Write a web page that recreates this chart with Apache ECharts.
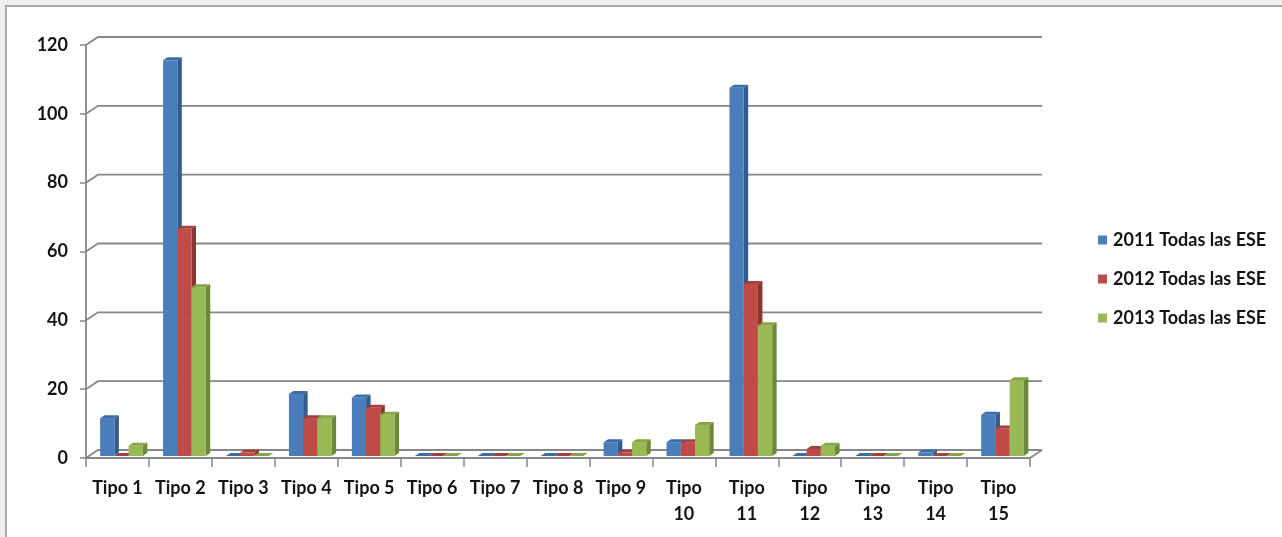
<!DOCTYPE html>
<html>
<head>
<meta charset="utf-8">
<script src="https://cdn.jsdelivr.net/npm/echarts@6/dist/echarts.min.js"></script>
<style>
  html, body { margin: 0; padding: 0; background: #efefef; }
  #frame {
    position: absolute; left: 5px; top: 5px; width: 1290px; height: 550px;
    background: #ffffff; border-left: 2px solid #a9a9a9; border-top: 2px solid #a9a9a9;
  }
  #chart { position: absolute; left: 0; top: 0; width: 1282px; height: 537px; }
</style>
</head>
<body>
<div id="frame"></div>
<div id="chart"></div>
<script>
// Categories and yearly counts per type
const categories = ['Tipo 1', 'Tipo 2', 'Tipo 3', 'Tipo 4', 'Tipo 5', 'Tipo 6', 'Tipo 7', 'Tipo 8',
  'Tipo 9', 'Tipo 10', 'Tipo 11', 'Tipo 12', 'Tipo 13', 'Tipo 14', 'Tipo 15'];
const seriesNames = ['2011 Todas las ESE', '2012 Todas las ESE', '2013 Todas las ESE'];
const values2011 = [11, 115, 0, 18, 17, 0, 0, 0, 4, 4, 107, 0, 0, 1, 12];
const values2012 = [0, 66, 1, 11, 14, 0, 0, 0, 1, 4, 50, 2, 0, 0, 8];
const values2013 = [3, 49, 0, 11, 12, 0, 0, 0, 4, 9, 38, 3, 0, 0, 22];
const yTicks = [0, 20, 40, 60, 80, 100, 120];

// Face colours for the pseudo-3D columns: front, top, side
const palettes = [
  { front: '#4A7EBB', top: '#3D6DA6', side: '#335B8D' },
  { front: '#BE4B48', top: '#A33F3C', side: '#8B3431' },
  { front: '#98B954', top: '#86A548', side: '#6E8839' }
];

// Depth of the back wall and of each column
const WALL_DX = 12, WALL_DY = 8;
const BAR_DX = 4.5, BAR_DY = 3;
const SHIFT_X = 4, SHIFT_Y = 2;
const GRID_COLOR = '#878787';
const TEXT_COLOR = '#141414';
const FONT = 'Lato, "Open Sans", sans-serif';

function wallRenderer(params, api) {
  const cs = params.coordSys;
  const t = api.value(1);
  const y = api.coord([0, t])[1];
  const x0 = cs.x, x1 = cs.x + cs.width;
  const children = [{
    type: 'polyline',
    shape: { points: [[x0, y], [x0 + WALL_DX, y - WALL_DY], [x1 + WALL_DX, y - WALL_DY]] },
    style: { stroke: GRID_COLOR, lineWidth: 1.8, fill: null }
  }];
  if (t === 0) {
    children.push({
      type: 'line',
      shape: { x1: x1, y1: y, x2: x1 + WALL_DX, y2: y - WALL_DY },
      style: { stroke: GRID_COLOR, lineWidth: 1.8 }
    });
  }
  return { type: 'group', children: children };
}

function barRenderer(idx) {
  const pal = palettes[idx];
  return function (params, api) {
    const cat = api.value(0), v = api.value(1);
    const base = api.coord([cat, 0]);
    const top = api.coord([cat, v]);
    const band = api.size([1, 0])[0];
    const w = band * 0.226;
    const x0 = base[0] - 1.5 * w + SHIFT_X + idx * w;
    const x1 = x0 + w;
    const yb = base[1] - SHIFT_Y;
    const yt = top[1] - SHIFT_Y;
    return {
      type: 'group',
      children: [
        { type: 'polygon',
          shape: { points: [[x1, yt], [x1 + BAR_DX, yt - BAR_DY], [x1 + BAR_DX, yb - BAR_DY], [x1, yb]] },
          style: { fill: pal.side } },
        { type: 'rect', shape: { x: x0, y: yt, width: w, height: yb - yt },
          style: { fill: pal.front } },
        { type: 'polygon',
          shape: { points: [[x0, yt], [x0 + BAR_DX, yt - BAR_DY], [x1 + BAR_DX, yt - BAR_DY], [x1, yt]] },
          style: { fill: pal.top } }
      ]
    };
  };
}

const seriesValues = [values2011, values2012, values2013];

const chart = echarts.init(document.getElementById('chart'), null, { renderer: 'canvas' });
chart.setOption({
  animation: false,
  backgroundColor: 'transparent',
  color: palettes.map(p => p.front),
  textStyle: { fontFamily: FONT },
  legend: {
    orient: 'vertical',
    left: 1093,
    top: 225,
    icon: 'rect',
    itemWidth: 9,
    itemHeight: 9,
    itemGap: 19,
    data: seriesNames,
    textStyle: { fontFamily: FONT, fontSize: 18, fontWeight: 'bold', color: TEXT_COLOR, lineHeight: 20, padding: [0, 0, 0, 1] }
  },
  grid: { left: 86, right: 252, top: 45, bottom: 79 },
  xAxis: {
    type: 'category',
    data: categories,
    axisLine: { show: true, lineStyle: { color: GRID_COLOR, width: 1.8 } },
    axisTick: { show: true, length: 9, lineStyle: { color: GRID_COLOR, width: 1.5 } },
    axisLabel: {
      interval: 0,
      margin: 17,
      fontFamily: FONT,
      fontSize: 18,
      fontWeight: 'bold',
      color: TEXT_COLOR,
      lineHeight: 26,
      formatter: v => (v.length > 6 ? v.replace(' ', '\n') : v)
    },
    splitLine: { show: false }
  },
  yAxis: {
    type: 'value',
    min: 0,
    max: 120,
    interval: 20,
    axisLine: { show: true, lineStyle: { color: GRID_COLOR, width: 1.8 } },
    axisTick: { show: true, length: 6, lineStyle: { color: GRID_COLOR, width: 1.5 } },
    axisLabel: { margin: 18, fontFamily: FONT, fontSize: 18, fontWeight: 'bold', color: TEXT_COLOR },
    splitLine: { show: false }
  },
  series: [
    {
      type: 'custom',
      name: 'wall',
      silent: true,
      z: 1,
      renderItem: wallRenderer,
      data: yTicks.map(t => [0, t]),
      encode: { x: 0, y: 1 }
    }
  ].concat(seriesNames.map((name, i) => ({
    type: 'custom',
    name: name,
    z: 2 + i,
    itemStyle: { color: palettes[i].front },
    renderItem: barRenderer(i),
    data: seriesValues[i].map((v, c) => [c, v]),
    encode: { x: 0, y: 1 }
  })))
});
</script>
</body>
</html>
